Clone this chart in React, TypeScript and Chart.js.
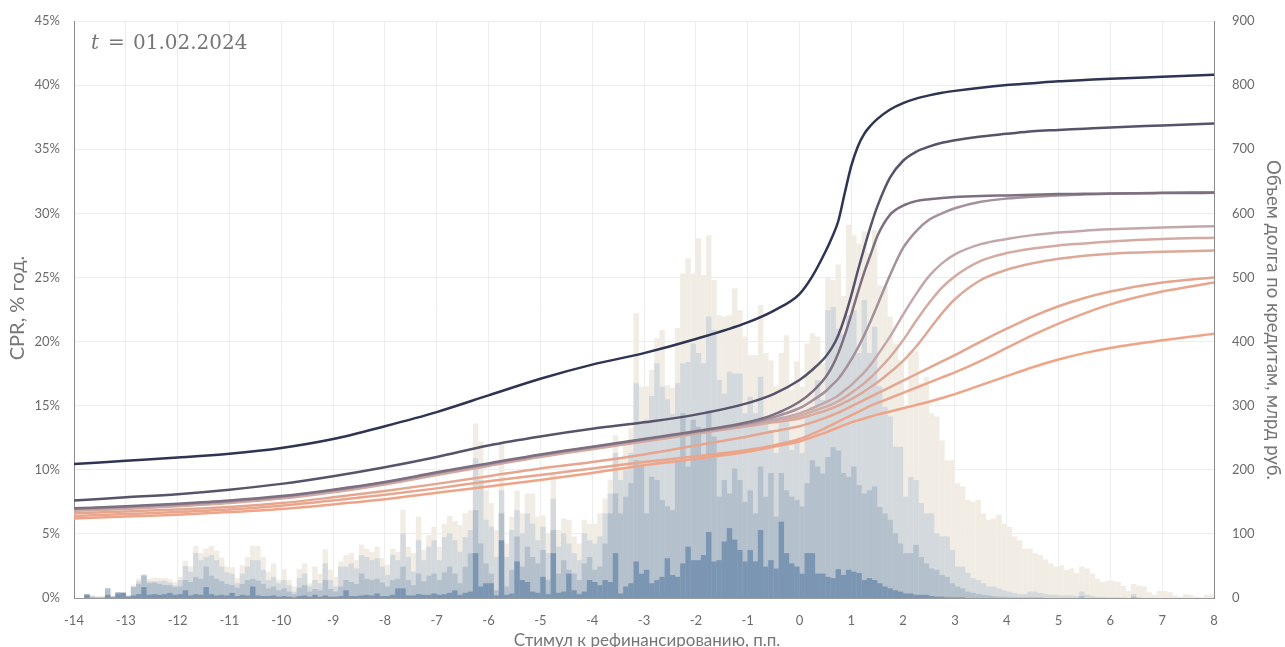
import React, { useEffect, useRef } from "react";
import { Chart, registerables } from "chart.js";

Chart.register(...registerables);

// ---------- histogram: debt volume per 0.1 p.p. incentive bin (bln rub), bins start at -14 ----------
const BIN_START = -14;
const BIN_WIDTH = 0.1;

const VOLUME_BEIGE = [
  0, 0, 6, 4, 2, 3, 15, 3, 9, 9,
  4, 20, 30, 37, 30, 32, 31, 31, 29, 25,
  33, 58, 49, 81, 70, 77, 81, 74, 63, 49,
  48, 31, 51, 64, 81, 81, 64,
  41, 54, 28, 45, 28, 18, 45, 54, 23, 49,
  38, 76, 44, 33, 57, 67, 70, 59, 83, 77,
  72, 80, 62, 52, 77, 72, 138, 80, 70, 127,
  75, 98, 111, 80, 116, 128, 120,
  114, 132, 137, 272, 244, 168, 148, 106, 241, 85,
  127, 168, 132, 163, 163, 127, 129, 101, 195, 106,
  124, 122, 96, 85, 122, 116, 116, 132, 155, 184,
  254, 220, 239, 265, 444, 330,
  330, 356, 405, 418, 332, 328, 421, 506, 530, 506,
  561, 504, 566, 496, 441, 439, 441, 483, 449, 408,
  379, 379, 457, 382, 371, 330, 382, 410, 324, 369,
  330, 397, 413, 408, 366, 501, 496, 520,
  471, 582, 566, 553, 572, 538, 574, 488, 486, 439,
  397, 371, 298, 385, 385, 335, 345, 288, 283, 246,
  215, 215, 179, 174, 153, 150, 153, 132, 122, 124,
  130, 116, 111, 96, 90, 77,
  77, 70, 67, 60, 54, 49, 51, 44, 46, 39,
  49, 46, 38, 30, 25, 27, 27, 25, 19, 11,
  22, 19, 18, 9, 5, 11, 11, 9, 4, 2,
  6, 5, 2, 1, 5, 5,
];

const VOLUME_GREY = [
  0, 0, 6, 3, 2, 2, 15, 3, 9, 9,
  4, 18, 26, 36, 26, 26, 26, 27, 24, 20,
  28, 50, 41, 70, 59, 64, 67, 59, 49, 40,
  38, 23, 38, 49, 59, 59, 44,
  28, 33, 23, 28, 20, 10, 31, 38, 18, 28,
  23, 54, 28, 18, 49, 49, 54, 46, 67, 64,
  59, 62, 49, 36, 67, 59, 101, 64, 41, 90,
  59, 80, 90, 59, 95, 101, 90,
  72, 95, 106, 218, 184, 122, 111, 64, 168, 64,
  106, 137, 101, 132, 116, 90, 111, 70, 155, 80,
  101, 85, 70, 59, 101, 90, 85, 96, 132, 163,
  226, 184, 200, 226, 335, 275,
  278, 315, 366, 330, 310, 287, 335, 366, 368, 397,
  382, 366, 439, 418, 340, 319, 353, 350, 350, 288,
  314, 288, 345, 278, 262, 226, 293, 278, 231, 246,
  226, 283, 298, 340, 309, 449, 454, 420,
  411, 441, 449, 382, 465, 382, 423, 330, 298, 283,
  236, 236, 158, 189, 184, 148, 132, 132, 101, 96,
  96, 75, 49, 49, 39, 31, 28, 23, 18, 18,
  15, 12, 10, 8, 6, 6,
  10, 10, 8, 6, 5, 5, 4, 4, 4, 3,
  10, 5, 3, 2, 2, 1, 1, 1, 1, 0,
  6, 1, 0, 0, 0, 0, 0, 0, 0, 0,
  0, 0, 0, 0, 0, 0,
];

const VOLUME_SLATE = [
  0, 0, 6, 2, 1, 1, 15, 2, 9, 8,
  3, 17, 22, 35, 23, 24, 22, 20, 20, 17,
  18, 28, 25, 33, 30, 49, 35, 30, 26, 22,
  20, 16, 22, 28, 30, 27, 22,
  15, 18, 12, 15, 10, 6, 16, 20, 10, 14,
  12, 28, 14, 10, 18, 28, 25, 22, 38, 30,
  28, 30, 24, 18, 28, 30, 49, 28, 20, 38,
  26, 35, 38, 28, 40, 49, 38,
  23, 49, 70, 137, 85, 54, 38, 12, 132, 18,
  44, 96, 49, 80, 64, 54, 75, 28, 106, 38,
  59, 44, 38, 28, 54, 64, 44, 49, 85, 132,
  163, 132, 158, 179, 215, 205,
  132, 189, 184, 153, 143, 137, 215, 288, 205, 278,
  267, 220, 293, 252, 158, 184, 163, 202, 184, 150,
  168, 132, 205, 158, 195, 127, 195, 168, 158, 153,
  143, 179, 215, 205, 194, 220, 235, 230,
  195, 189, 205, 176, 163, 168, 174, 142, 132, 122,
  101, 85, 70, 70, 83, 64, 54, 46, 44, 36,
  33, 23, 18, 15, 10, 8, 6, 5, 4, 3,
  2, 2, 1, 1, 1, 1,
  1, 1, 1, 0, 0, 0, 0, 0, 0, 0,
  3, 0, 0, 0, 0, 0, 0, 0, 0, 0,
  2, 0, 0, 0, 0, 0, 0, 0, 0, 0,
  0, 0, 0, 0, 0, 0,
];

const VOLUME_DARK = [
  0, 0, 5, 0, 0, 0, 5, 1, 7, 8,
  2, 4, 6, 17, 5, 6, 5, 6, 8, 5,
  6, 12, 4, 6, 5, 17, 6, 4, 5, 4,
  8, 3, 5, 4, 18, 4, 3,
  3, 4, 2, 3, 2, 1, 3, 4, 2, 5,
  2, 4, 2, 2, 3, 12, 3, 3, 4, 5,
  4, 7, 3, 3, 5, 15, 15, 4, 4, 6,
  5, 5, 7, 5, 6, 8, 12,
  5, 8, 10, 70, 18, 23, 23, 4, 90, 5,
  7, 57, 28, 25, 10, 8, 33, 6, 70, 8,
  10, 38, 12, 6, 10, 28, 25, 20, 28, 25,
  70, 7, 18, 23, 57, 38,
  44, 23, 28, 33, 62, 36, 33, 54, 80, 59,
  59, 67, 103, 57, 59, 88, 109, 91, 75, 57,
  75, 57, 106, 49, 59, 46, 119, 70, 54, 49,
  38, 70, 70, 38, 38, 33, 31, 45,
  36, 44, 41, 39, 28, 31, 28, 23, 18, 15,
  12, 10, 7, 7, 5, 5, 5, 3, 2, 2,
  1, 1, 1, 1, 0, 0, 0, 0, 0, 0,
  0, 0, 0, 0, 0, 0,
  0, 0, 0, 0, 0, 0, 0, 0, 0, 0,
  0, 0, 0, 0, 0, 0, 0, 0, 0, 0,
  0, 0, 0, 0, 0, 0, 0, 0, 0, 0,
  0, 0, 0, 0, 0, 0,
];

// ---------- S-curves: CPR (% per year) vs incentive ----------
const CURVE_X = [-14, -13, -12, -11, -10, -9, -8, -7, -6, -5, -4, -3, -2, -1, -0.5, 0, 0.25, 0.5, 0.625, 0.75, 0.875, 1, 1.125, 1.25, 1.375, 1.5, 1.75, 2, 2.25, 2.5, 2.75, 3, 3.5, 4, 4.5, 5, 5.5, 6, 7, 8];

const CPR_1 = [10.45, 10.7, 10.95, 11.25, 11.7, 12.4, 13.4, 14.5, 15.8, 17.1, 18.2, 19.1, 20.2, 21.5, 22.4, 23.7, 25.1, 27.0, 28.1, 29.4, 31.6, 33.7, 35.2, 36.2, 36.85, 37.35, 38.1, 38.6, 38.95, 39.2, 39.4, 39.55, 39.8, 40.0, 40.15, 40.3, 40.4, 40.5, 40.65, 40.8];
const CPR_2 = [7.6, 7.85, 8.1, 8.45, 8.9, 9.5, 10.2, 11.0, 11.9, 12.6, 13.2, 13.7, 14.3, 15.2, 15.9, 17.0, 17.8, 18.8, 19.5, 20.5, 21.9, 23.6, 25.5, 27.3, 29.0, 30.5, 32.8, 34.1, 34.8, 35.2, 35.5, 35.7, 36.0, 36.2, 36.4, 36.5, 36.6, 36.7, 36.85, 37.0];
const CPR_3 = [7.0, 7.15, 7.35, 7.6, 7.95, 8.45, 9.05, 9.8, 10.5, 11.2, 11.8, 12.4, 13.0, 13.7, 14.3, 15.3, 16.1, 17.2, 18.0, 19.1, 20.5, 22.1, 23.8, 25.4, 26.8, 28.2, 29.9, 30.6, 30.95, 31.1, 31.2, 31.27, 31.35, 31.4, 31.45, 31.5, 31.52, 31.55, 31.58, 31.6];
const CPR_4 = [6.95, 7.1, 7.3, 7.55, 7.9, 8.4, 9.0, 9.75, 10.45, 11.15, 11.75, 12.35, 12.95, 13.6, 14.1, 14.8, 15.4, 16.1, 16.6, 17.1, 17.8, 18.6, 19.5, 20.5, 21.6, 22.8, 25.2, 27.3, 28.6, 29.5, 30.0, 30.4, 30.9, 31.15, 31.3, 31.4, 31.47, 31.52, 31.6, 31.65];
const CPR_5 = [6.9, 7.05, 7.25, 7.5, 7.85, 8.35, 8.95, 9.7, 10.4, 11.1, 11.7, 12.3, 12.9, 13.5, 13.9, 14.4, 14.8, 15.25, 15.5, 15.8, 16.2, 16.6, 17.1, 17.6, 18.2, 18.9, 20.4, 22.1, 23.7, 25.1, 26.1, 26.8, 27.6, 28.0, 28.3, 28.5, 28.65, 28.75, 28.9, 29.0];
const CPR_6 = [6.85, 7.0, 7.2, 7.45, 7.8, 8.3, 8.9, 9.65, 10.35, 11.05, 11.65, 12.25, 12.85, 13.45, 13.8, 14.2, 14.55, 14.9, 15.1, 15.35, 15.65, 16.0, 16.35, 16.75, 17.2, 17.7, 18.8, 20.1, 21.6, 23.0, 24.2, 25.1, 26.3, 26.9, 27.25, 27.5, 27.65, 27.8, 28.0, 28.1];
const CPR_7 = [6.8, 6.95, 7.15, 7.4, 7.75, 8.25, 8.85, 9.6, 10.3, 11.0, 11.6, 12.2, 12.8, 13.4, 13.7, 14.0, 14.3, 14.6, 14.8, 15.0, 15.25, 15.5, 15.8, 16.1, 16.45, 16.8, 17.6, 18.5, 19.6, 20.9, 22.2, 23.3, 24.8, 25.6, 26.1, 26.45, 26.7, 26.85, 27.0, 27.1];
const CPR_8 = [6.6, 6.75, 6.9, 7.1, 7.4, 7.85, 8.35, 8.9, 9.5, 10.1, 10.6, 11.2, 11.9, 12.6, 13.0, 13.4, 13.7, 14.05, 14.25, 14.45, 14.7, 14.95, 15.2, 15.45, 15.7, 15.95, 16.45, 16.95, 17.45, 17.95, 18.45, 18.95, 20.0, 21.0, 21.95, 22.75, 23.4, 23.9, 24.6, 25.0];
const CPR_9 = [6.4, 6.55, 6.7, 6.9, 7.2, 7.6, 8.05, 8.55, 9.1, 9.6, 10.1, 10.6, 11.05, 11.55, 11.9, 12.4, 12.8, 13.25, 13.5, 13.75, 14.0, 14.25, 14.5, 14.75, 15.0, 15.2, 15.6, 16.0, 16.4, 16.8, 17.2, 17.6, 18.5, 19.5, 20.5, 21.4, 22.2, 22.9, 23.9, 24.6];
const CPR_10 = [6.2, 6.35, 6.5, 6.7, 6.95, 7.3, 7.7, 8.2, 8.7, 9.2, 9.75, 10.35, 10.85, 11.4, 11.8, 12.2, 12.55, 12.9, 13.1, 13.3, 13.5, 13.7, 13.85, 14.0, 14.15, 14.3, 14.55, 14.8, 15.05, 15.3, 15.6, 15.9, 16.6, 17.3, 18.0, 18.6, 19.1, 19.5, 20.1, 20.6];

const CURVES = [CPR_1, CPR_2, CPR_3, CPR_4, CPR_5, CPR_6, CPR_7, CPR_8, CPR_9, CPR_10];
const CURVE_COLORS = ["#2e3452", "#57536a", "#7d6f80", "#a5919b", "#c3a8aa", "#d3aba3", "#dca998", "#e5a690", "#eaa58d", "#efa488"];

const X_TITLE = "Стимул к рефинансированию, п.п.";
const Y_TITLE = "CPR, % год.";
const Y1_TITLE = "Объем долга по кредитам, млрд руб.";
const DATE_LABEL = "01.02.2024";

const TICK_COLOR = "#6b6b6b";
const TICK_FONT = { family: "Lato", size: 13 };

const textPlugin = {
  id: "textPlugin",
  afterDraw(chart: any) {
    const ctx = chart.ctx as CanvasRenderingContext2D;
    ctx.save();
    ctx.fillStyle = "#767676";
    ctx.textBaseline = "alphabetic";
    ctx.textAlign = "left";
    ctx.font = 'italic 20px "DejaVu Serif"';
    ctx.fillText("t", 91, 49);
    ctx.font = '20px "DejaVu Serif"';
    ctx.fillText("=", 108, 49);
    ctx.fillText(DATE_LABEL, 133, 49);

    ctx.fillStyle = "#767676";
    ctx.font = "17px Lato";
    ctx.textAlign = "center";
    ctx.fillText(X_TITLE, 647, 646);

    ctx.textBaseline = "middle";
    ctx.font = "20px Lato";
    ctx.save();
    ctx.translate(18, 308);
    ctx.rotate(-Math.PI / 2);
    ctx.fillText(Y_TITLE, 0, 0);
    ctx.restore();

    ctx.font = "18.5px Lato";
    ctx.save();
    ctx.translate(1273, 320);
    ctx.rotate(Math.PI / 2);
    ctx.fillText(Y1_TITLE, 0, 0);
    ctx.restore();
    ctx.restore();
  },
};

function barData(values: number[]) {
  return values.map((v, i) => ({ x: BIN_START + BIN_WIDTH * (i + 0.5), y: v }));
}

export default function App() {
  const ref = useRef<HTMLCanvasElement>(null);

  useEffect(() => {
    document.body.style.margin = "0";
    const barSets = [
      { values: VOLUME_DARK, color: "#7b96b3", order: 1 },
      { values: VOLUME_SLATE, color: "#b4c0cc", order: 2 },
      { values: VOLUME_GREY, color: "#d4d9dd", order: 3 },
      { values: VOLUME_BEIGE, color: "#f2ede4", order: 4 },
    ].map((b) => ({
      type: "bar" as const,
      data: barData(b.values),
      backgroundColor: b.color,
      borderWidth: 0,
      barPercentage: 1.05,
      categoryPercentage: 1,
      grouped: false,
      yAxisID: "y1",
      xAxisID: "x",
      order: b.order,
    }));

    const lineSets = CURVES.map((vals, k) => ({
      type: "line" as const,
      data: CURVE_X.map((x, i) => ({ x, y: vals[i] })),
      borderColor: CURVE_COLORS[k],
      backgroundColor: CURVE_COLORS[k],
      borderWidth: 2.5,
      pointRadius: 0,
      cubicInterpolationMode: "monotone" as const,
      fill: false,
      yAxisID: "y",
      xAxisID: "x",
      order: 0,
    }));

    const chart = new Chart(ref.current as HTMLCanvasElement, {
      type: "bar",
      data: { datasets: [...lineSets, ...barSets] as any },
      options: {
        animation: false,
        responsive: false,
        maintainAspectRatio: false,
        layout: { padding: { top: 21, left: 0, right: 0, bottom: 0 } },
        plugins: { legend: { display: false }, tooltip: { enabled: false } },
        scales: {
          x: {
            type: "linear",
            min: -14,
            max: 8,
            offset: false,
            ticks: { stepSize: 1, autoSkip: false, maxRotation: 0, padding: 15, color: TICK_COLOR, font: TICK_FONT },
            grid: { color: "#ededed", drawTicks: false, offset: false },
            border: { display: true, color: "#9a9a9a", width: 1 },
            afterFit: (s: any) => { s.height = 49; },
          },
          y: {
            position: "left",
            min: 0,
            max: 45,
            ticks: { stepSize: 5, padding: 14, color: TICK_COLOR, font: TICK_FONT, callback: (v: any) => v + "%" },
            grid: { color: "#ededed", drawTicks: false },
            border: { display: true, color: "#8c8c8c", width: 1 },
            afterFit: (s: any) => { s.width = 74; s.paddingTop = 0; s.paddingBottom = 0; },
          },
          y1: {
            position: "right",
            min: 0,
            max: 900,
            ticks: { stepSize: 100, padding: 18, color: TICK_COLOR, font: TICK_FONT },
            grid: { display: false, drawTicks: false },
            border: { display: true, color: "#8c8c8c", width: 1 },
            afterFit: (s: any) => { s.width = 71; s.paddingTop = 0; s.paddingBottom = 0; },
          },
        } as any,
      },
      plugins: [textPlugin],
    });
    return () => chart.destroy();
  }, []);

  return (
    <div style={{ width: 1285, height: 647 }}>
      <canvas ref={ref} width={1285} height={647} style={{ display: "block" }} />
    </div>
  );
}
